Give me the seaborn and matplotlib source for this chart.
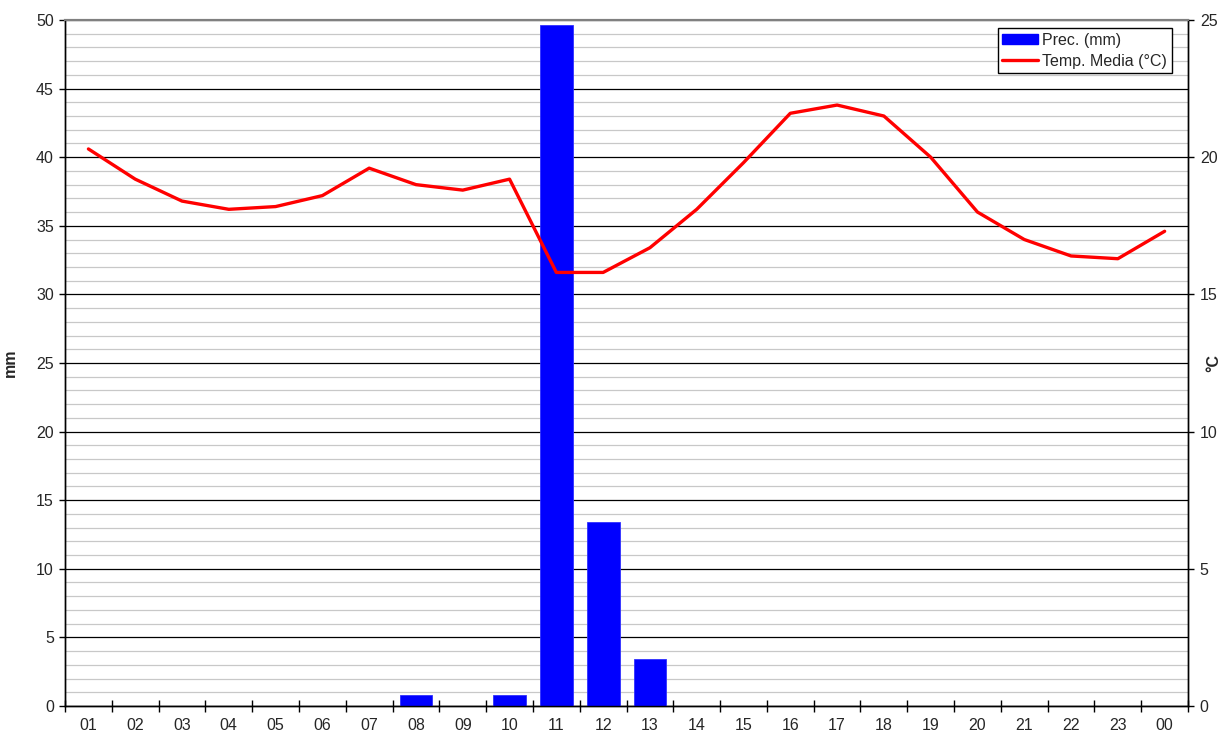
import numpy as np
import pandas as pd
import seaborn as sns
import matplotlib.pyplot as plt
from matplotlib.patches import Patch
from matplotlib.lines import Line2D
from matplotlib.ticker import MultipleLocator, FixedLocator

# data
hours = ['01', '02', '03', '04', '05', '06', '07', '08', '09', '10', '11', '12',
         '13', '14', '15', '16', '17', '18', '19', '20', '21', '22', '23', '00']
prec_mm = [0, 0, 0, 0, 0, 0, 0, 0.8, 0, 0.8, 49.6, 13.4,
           3.4, 0, 0, 0, 0, 0, 0, 0, 0, 0, 0, 0]
temp_c = [20.3, 19.2, 18.4, 18.1, 18.2, 18.6, 19.6, 19.0, 18.8, 19.2, 15.8, 15.8,
          16.7, 18.1, 19.8, 21.6, 21.9, 21.5, 20.0, 18.0, 17.0, 16.4, 16.3, 17.3]

df = pd.DataFrame({'hour': hours, 'prec': prec_mm, 'temp': temp_c})

sns.set_style('white')
plt.rcParams['font.family'] = ['Liberation Sans', 'DejaVu Sans']
plt.rcParams['xtick.bottom'] = True
plt.rcParams['ytick.left'] = True
plt.rcParams['ytick.right'] = True

fig = plt.figure(figsize=(12.2, 7.35), dpi=100)
ax = fig.add_axes([0.0533, 0.0395, 0.9205, 0.9333])

# bars
sns.barplot(data=df, x='hour', y='prec', color='#0000FF', saturation=1,
            width=0.7, edgecolor='#3030FF', linewidth=0.6, ax=ax, zorder=3)
ax.set_xlim(-0.5, len(hours) - 0.5)
ax.set_ylim(0, 50)
ax.yaxis.set_major_locator(MultipleLocator(5))
ax.yaxis.set_minor_locator(MultipleLocator(1))
ax.grid(which='major', axis='y', color='black', linewidth=0.9, zorder=0)
ax.grid(which='minor', axis='y', color='#c8c8c8', linewidth=0.9, zorder=0)
ax.grid(False, axis='x')
ax.set_axisbelow(True)

ax.xaxis.set_minor_locator(FixedLocator(np.arange(-0.5, len(hours), 1.0)))
ax.tick_params(axis='x', which='major', length=0, labelsize=11.5, pad=9)
ax.tick_params(axis='x', which='minor', bottom=True, length=9, direction='inout',
               width=1, color='black')
ax.tick_params(axis='y', which='major', left=True, right=False, length=4, direction='out',
               width=1, color='black', labelsize=11.5, pad=4)
ax.tick_params(axis='y', which='minor', length=0)
ax.set_xlabel('')
ax.set_ylabel('mm', fontsize=11.5, fontweight='bold')
ax.yaxis.set_label_coords(-0.042, 0.5)

# temperature line
ax2 = ax.twinx()
sns.lineplot(x=np.arange(len(hours)), y=df['temp'], color='#FF0000', linewidth=2.4, ax=ax2, zorder=5)
ax2.set_ylim(0, 25)
ax2.yaxis.set_major_locator(MultipleLocator(5))
ax2.tick_params(axis='y', which='major', right=True, left=False, length=4, direction='out',
                width=1, color='black', labelsize=11.5, pad=4.5)
ax2.tick_params(axis='y', which='minor', length=0)
ax2.set_ylabel('°C', fontsize=11.5, fontweight='bold', rotation=90)
ax2.yaxis.set_label_coords(1.016, 0.5)
ax2.set_xlim(-0.5, len(hours) - 0.5)

for a in (ax, ax2):
    for s in ('left', 'right', 'bottom'):
        a.spines[s].set_color('black')
        a.spines[s].set_linewidth(1)
    a.spines['top'].set_color('#808080')
    a.spines['top'].set_linewidth(1.5)

handles = [Patch(facecolor='#0000FF', edgecolor='#0000FF'),
           Line2D([0], [0], color='#FF0000', linewidth=2.4)]
leg = ax2.legend(handles, ['Prec. (mm)', 'Temp. Media (°C)'], loc='upper right',
                 bbox_to_anchor=(0.9857, 0.988), fontsize=11.5, frameon=True, fancybox=False,
                 shadow=False, framealpha=1, edgecolor='black', borderpad=0.3,
                 handlelength=2.2, handleheight=0.6, handletextpad=0.3, labelspacing=0.35,
                 borderaxespad=0.0)
leg.get_frame().set_linewidth(1)

fig.savefig('out.png', dpi=100)
